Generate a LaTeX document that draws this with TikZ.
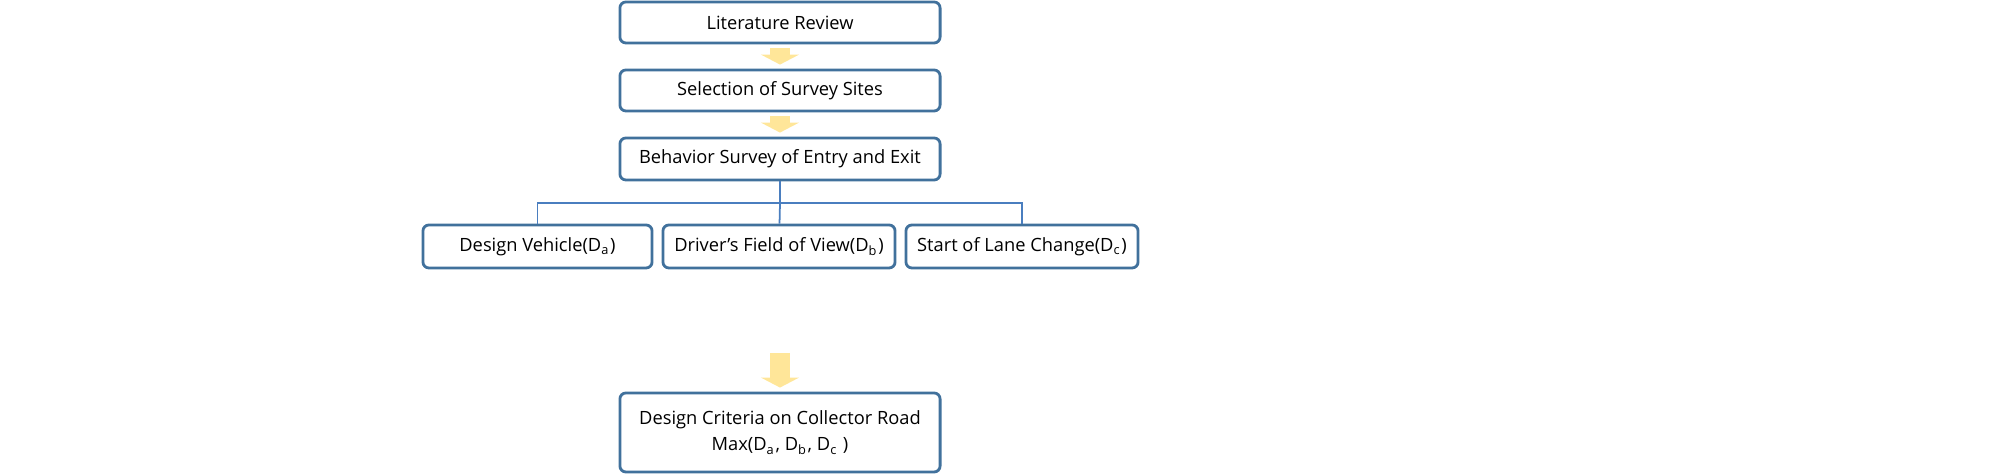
\documentclass[tikz,border=0pt]{standalone}
\usepackage{fontspec}
\setmainfont{Open Sans}
\usetikzlibrary{arrows.meta}
\definecolor{boxblue}{HTML}{41719C}
\definecolor{lineblue}{HTML}{4A7EBF}
\definecolor{arrowyel}{HTML}{FFE699}
\tikzset{
  stepbox/.style={rectangle, rounded corners=0.06cm, draw=boxblue, line width=0.8pt, fill=white, text centered, inner sep=1pt, font=\fontsize{5.2}{7.5}\selectfont},
  flowarrow/.style={draw=arrowyel, line width=0.2cm, -{Triangle[length=0.1cm,width=0.38cm]}, shorten <=0.04cm, shorten >=0.04cm},
  branch/.style={draw=lineblue, line width=0.5pt}
}
\begin{document}
\begin{tikzpicture}[x=0.01cm, y=-0.01cm]
    \useasboundingbox (0,0) rectangle (2008,474);

    % Nodes
    \node (lit) [stepbox, minimum width=3.2cm, minimum height=0.41cm] at (780,22.5) {Literature Review};
    \node (sel) [stepbox, minimum width=3.2cm, minimum height=0.41cm] at (780,90.5) {Selection of Survey Sites};
    \node (beh) [stepbox, minimum width=3.2cm, minimum height=0.42cm] at (780,159) {Behavior Survey of Entry and Exit};
    \node (veh) [stepbox, minimum width=2.29cm, minimum height=0.43cm] at (537.5,246.5) {Design Vehicle(D\textsubscript{a})};
    \node (view) [stepbox, minimum width=2.32cm, minimum height=0.43cm] at (779,246.5) {Driver's Field of View(D\textsubscript{b})};
    \node (lane) [stepbox, minimum width=2.32cm, minimum height=0.43cm] at (1022,246.5) {Start of Lane Change(D\textsubscript{c})};
    \node (crit) [stepbox, minimum width=3.2cm, minimum height=0.79cm, align=center] at (780,432.5) {Design Criteria on Collector Road\\Max(D\textsubscript{a}, D\textsubscript{b}, D\textsubscript{c} )};
    \coordinate (split) at (780,203);
    \coordinate (mid) at (780,349);

    % Arrows
    \draw [flowarrow] (lit) -- (sel);
    \draw [flowarrow] (sel) -- (beh);
    \draw [flowarrow] (mid) -- (crit);
    \draw [branch] (beh) -- (split);
    \draw [branch] (split) -| (veh);
    \draw [branch] (split) -| (lane);
    \draw [branch] (split) -- (view);

\end{tikzpicture}
\end{document}
